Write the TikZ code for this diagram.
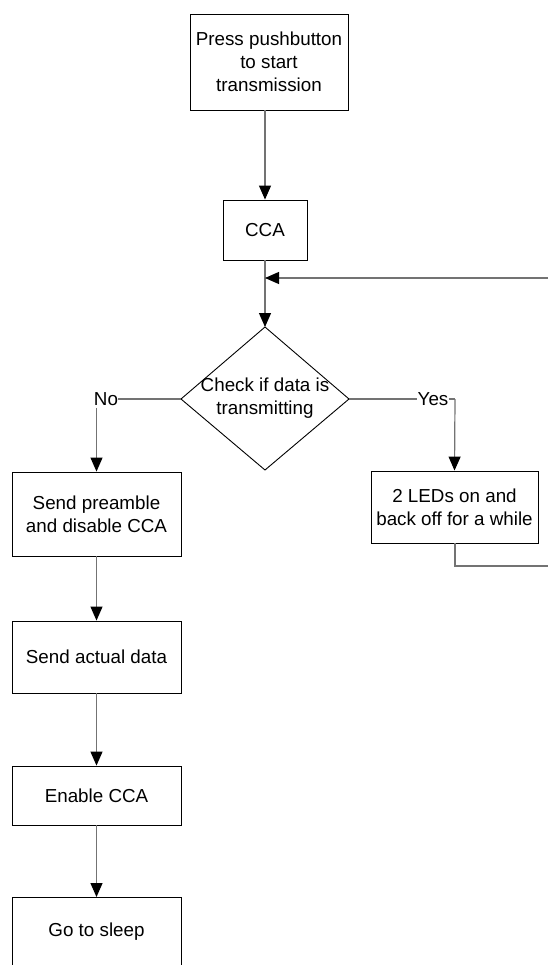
\documentclass[tikz,border=0pt]{standalone}
\usepackage{fontspec}
\setmainfont{Liberation Sans}
\usetikzlibrary{arrows.meta}
\begin{document}
\begin{tikzpicture}[x=1pt,y=-1pt,
  box/.style={draw=black,line width=0.9pt,rectangle,inner sep=0pt,align=center,
    font=\fontsize{18.8}{23}\selectfont},
  lbl/.style={inner sep=0pt,font=\fontsize{18.8}{23}\selectfont},
  conn/.style={draw=black!55,line width=1.2pt},
  arr/.style={conn,-{Triangle[black,length=14pt,width=12pt]}}]
\useasboundingbox (0,0) rectangle (548,965);
\clip (0,0) rectangle (548,965);
\fill[white] (0,0) rectangle (548,965);
% nodes
\node[box,minimum width=158pt,minimum height=96pt] (press) at (269,62) {Press pushbutton\\to start\\transmission};
\node[box,minimum width=84pt,minimum height=60pt] (cca) at (265,230) {CCA};
\coordinate (dtop) at (265,327);
\coordinate (dright) at (349,399);
\coordinate (dbot) at (265,470);
\coordinate (dleft) at (181,399);
\draw[black,line width=0.9pt] (dtop) -- (dright) -- (dbot) -- (dleft) -- cycle;
\node[lbl,align=center] (check) at (265,398) {Check if data is\\transmitting};
\node[lbl] (no) at (106,399) {No};
\node[lbl] (yes) at (433,399) {Yes};
\node[box,minimum width=169pt,minimum height=84pt] (pre) at (96.5,514) {Send preamble\\and disable CCA};
\node[box,minimum width=167pt,minimum height=72pt] (led) at (454.5,507) {2 LEDs on and\\back off for a while};
\node[box,minimum width=169pt,minimum height=72pt] (data) at (96.5,657) {Send actual data};
\node[box,minimum width=169pt,minimum height=59pt] (enable) at (96.5,795.5) {Enable CCA};
\draw[black,line width=0.9pt] (12,975) -- (12,897) -- (181,897) -- (181,975);
\node[lbl] (sleep) at (96.5,932) {Go to sleep};
\coordinate (sleeptop) at (96.5,897);
% loop coordinates
\coordinate (rin) at (548,278);
\coordinate (rmerge) at (265,278);
\coordinate (ycorner) at (455,399);
\coordinate (lcorner) at (455,566);
\coordinate (rout) at (548,566);
% connectors
\draw[arr] (cca.north |- press.south) -- (cca.north);
\draw[conn] (cca.south) -- (rmerge);
\draw[arr] (rmerge) -- (dtop);
\draw[arr] (rin) -- (rmerge);
\draw[conn] (dleft) -- (no.east);
\draw[arr] (pre.north |- no.south) ++(0,2) -- (pre.north);
\draw[conn] (dright) -- (yes.west);
\draw[conn] (yes.east) -- (ycorner);
\draw[arr] (ycorner) -- (led.north);
\draw[conn] (led.south -| lcorner) -- (lcorner) -- (rout);
\draw[arr] (pre.south) -- (data.north);
\draw[arr] (data.south) -- (enable.north);
\draw[arr] (enable.south) -- (sleeptop);
\end{tikzpicture}
\end{document}
